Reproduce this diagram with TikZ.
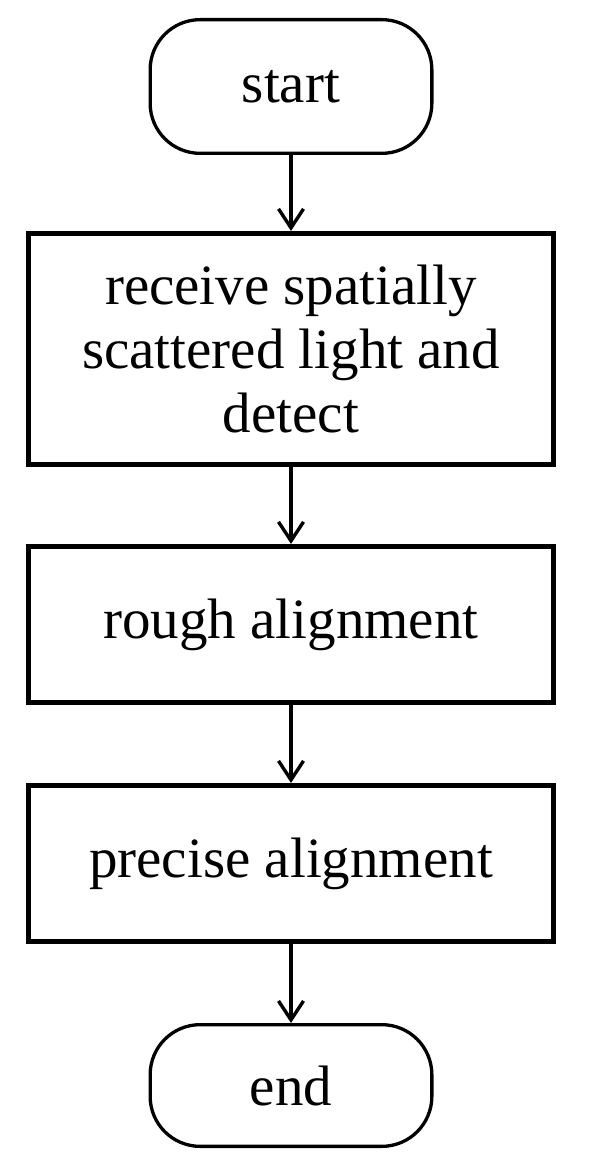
\documentclass[tikz,border=0pt]{standalone}
\usepackage{fontspec}
\setmainfont{Liberation Serif}
\usetikzlibrary{arrows.meta}
\begin{document}
\begin{tikzpicture}[x=1pt,y=1pt,
  txt/.style={font=\fontsize{57}{64}\selectfont, align=center, inner sep=0pt},
  termbox/.style={txt, draw, line width=3.3pt, rounded corners=50pt, minimum width=281.7pt, minimum height=#1},
  procbox/.style={txt, draw, line width=4.6pt, minimum width=524.5pt, minimum height=#1},
  flowarrow/.style={draw, line width=3.4pt, -{Straight Barb[length=19pt,width=25pt,line width=3.4pt]}}
]
\useasboundingbox (0,0) rectangle (590,-1166);
\fill[white] (0,0) rectangle (590,-1166);
\node[termbox=133.7pt] (start) at (291,-86.5) {start};
\node[procbox=231.5pt] (recv) at (291,-349) {receive spatially\\scattered light and\\detect};
\node[procbox=156.5pt] (rough) at (291,-624.5) {rough alignment};
\node[procbox=156.5pt] (precise) at (291,-863.5) {precise alignment};
\node[termbox=121.7pt] (end) at (291,-1085.5) {end};
\draw[flowarrow] (start.south) -- (recv.north);
\draw[flowarrow] (recv.south) -- (rough.north);
\draw[flowarrow] (rough.south) -- (precise.north);
\draw[flowarrow] (precise.south) -- (end.north);
\end{tikzpicture}
\end{document}
